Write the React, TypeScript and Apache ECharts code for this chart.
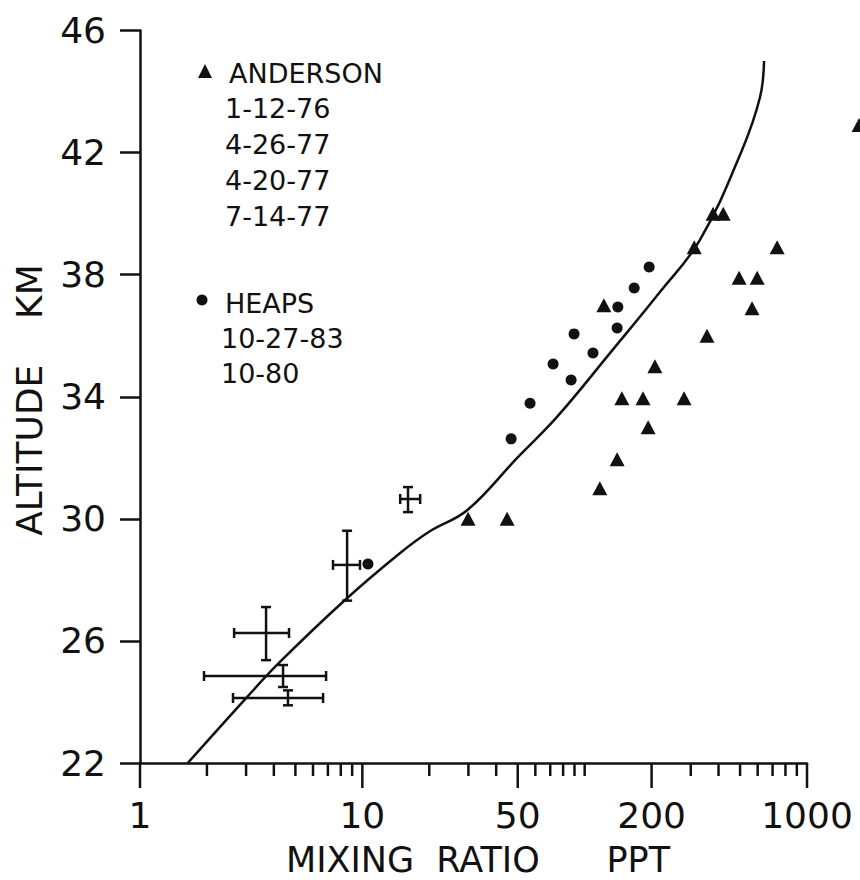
import React, { useEffect, useRef } from "react";
import * as echarts from "echarts";

// ---- axis ticks ----
const yTicks = [22, 26, 30, 34, 38, 42, 46];
const xMajorTicks = [1, 10, 50, 200, 1000];
const xMajorLabels = ["1", "10", "50", "200", "1000"];
const xMinorTicks = [2, 3, 4, 5, 6, 7, 8, 9, 20, 30, 40, 60, 70, 80, 90, 100, 300, 400, 500, 600, 700, 800, 900];

// ---- Anderson (triangles) ----
const andersonX = [1715, 378, 420, 311, 734, 495, 597, 566, 122, 355, 207, 147, 183, 280, 193, 140, 117, 29.9, 44.8];
const andersonY = [42.9, 40.0, 40.0, 38.9, 38.9, 37.9, 37.9, 36.9, 37.0, 36.0, 35.0, 33.95, 33.95, 33.95, 33.0, 31.95, 31.0, 30.0, 30.0];

// ---- Heaps (dots) ----
const heapsX = [195, 167, 141, 140, 89.6, 109, 72.1, 86.9, 56.8, 46.7, 10.6];
const heapsY = [38.25, 37.56, 36.94, 36.25, 36.06, 35.43, 35.07, 34.55, 33.79, 32.62, 28.52];

// ---- error-bar crosses ----
const errX = [16.05, 8.54, 3.69, 4.4, 4.63];
const errY = [30.65, 28.49, 26.26, 24.85, 24.13];
const errXLo = [14.8, 7.38, 2.65, 1.94, 2.62];
const errXHi = [18.2, 9.76, 4.68, 6.87, 6.66];
const errYLo = [30.22, 27.32, 25.37, 24.49, 23.89];
const errYHi = [31.04, 29.61, 27.11, 25.21, 24.38];

// ---- model curve ----
const curveX = [1.64, 3.03, 4.26, 8.36, 14.8, 20.2, 29.6, 49.6, 75.1, 130, 218, 330, 510, 615, 641];
const curveY = [22.0, 24.16, 25.31, 27.34, 28.88, 29.6, 30.28, 31.99, 33.34, 35.43, 37.43, 39.14, 42.08, 43.82, 45.0];

// ---- legend texts ----
const andersonName = "ANDERSON";
const andersonDates = ["1-12-76", "4-26-77", "4-20-77", "7-14-77"];
const heapsName = "HEAPS";
const heapsDates = ["10-27-83", "10-80"];

const FONT = "DejaVu Sans";
const INK = "#111";

export default function App() {
  const ref = useRef<HTMLDivElement>(null);

  useEffect(() => {
    if (!ref.current) return;
    const chart = echarts.init(ref.current, null, { renderer: "svg" });

    const legendText = (text: string, x: number, y: number) => ({
      type: "text",
      x,
      y,
      silent: true,
      style: { text, fill: INK, font: `27px "${FONT}"`, textAlign: "left", textVerticalAlign: "middle" },
    });

    const graphics: any[] = [
      { type: "polygon", silent: true, shape: { points: [[198, 78], [205, 64], [212, 78]] }, style: { fill: INK } },
      legendText(andersonName, 229, 73),
      ...andersonDates.map((d, i) => legendText(d, 225, 108 + i * 36)),
      { type: "circle", silent: true, shape: { cx: 202, cy: 300, r: 5.5 }, style: { fill: INK } },
      legendText(heapsName, 225, 303),
      ...heapsDates.map((d, i) => legendText(d, 221, 338 + i * 35)),
      {
        type: "text",
        x: 29,
        y: 400,
        rotation: Math.PI / 2,
        silent: true,
        style: {
          text: "ALTITUDE\u00A0\u00A0\u00A0\u00A0KM",
          fill: INK,
          font: `36px "${FONT}"`,
          textAlign: "center",
          textVerticalAlign: "middle",
        },
      },
      {
        type: "text",
        x: 478,
        y: 860,
        silent: true,
        style: {
          text: "MIXING\u00A0\u00A0RATIO\u00A0\u00A0\u00A0\u00A0\u00A0\u00A0PPT",
          fill: INK,
          font: `35px "${FONT}"`,
          textAlign: "center",
          textVerticalAlign: "middle",
        },
      },
    ];

    const lineStyle = { stroke: INK, lineWidth: 2.5 };

    chart.setOption({
      animation: false,
      backgroundColor: "#fff",
      grid: { left: 140, right: 53, top: 30.5, bottom: 117, containLabel: false, outerBoundsMode: "none" },
      xAxis: {
        type: "log",
        logBase: 10,
        min: 1,
        max: 1000,
        axisLine: { show: true, onZero: false, lineStyle: { color: INK, width: 2.5 } },
        axisTick: { show: false },
        axisLabel: { show: false },
        splitLine: { show: false },
        minorTick: { show: false },
      },
      yAxis: {
        type: "value",
        min: 22,
        max: 46,
        interval: 4,
        axisLine: { show: true, onZero: false, lineStyle: { color: INK, width: 2.5 } },
        axisTick: { show: true, inside: false, length: 20, customValues: yTicks, lineStyle: { color: INK, width: 2.5 } },
        axisLabel: { customValues: yTicks, margin: 34, fontSize: 36, fontFamily: FONT, color: INK },
        splitLine: { show: false },
      },
      graphic: graphics,
      series: [
        {
          name: "major ticks",
          type: "custom",
          coordinateSystem: "cartesian2d",
          silent: true,
          clip: false,
          data: xMajorTicks.map((v) => [v, 22]),
          encode: { x: 0, y: 1 },
          renderItem: (params: any, api: any) => {
            const p = api.coord([api.value(0), 22]);
            return {
              type: "group",
              children: [
                { type: "line", shape: { x1: p[0], y1: p[1], x2: p[0], y2: p[1] + 25 }, style: lineStyle },
                {
                  type: "text",
                  x: p[0],
                  y: p[1] + 52,
                  style: {
                    text: xMajorLabels[params.dataIndex],
                    fill: INK,
                    font: `36px "${FONT}"`,
                    textAlign: "center",
                    textVerticalAlign: "middle",
                  },
                },
              ],
            };
          },
        },
        {
          name: "minor ticks",
          type: "custom",
          coordinateSystem: "cartesian2d",
          silent: true,
          clip: false,
          data: xMinorTicks.map((v) => [v, 22]),
          encode: { x: 0, y: 1 },
          renderItem: (params: any, api: any) => {
            const p = api.coord([api.value(0), 22]);
            return { type: "line", shape: { x1: p[0], y1: p[1], x2: p[0], y2: p[1] + 13 }, style: lineStyle };
          },
        },
        {
          name: "model",
          type: "line",
          data: curveX.map((x, i) => [x, curveY[i]]),
          showSymbol: false,
          symbol: "none",
          smooth: 0.4,
          clip: false,
          lineStyle: { color: INK, width: 2.5, opacity: 1 },
        },
        {
          name: "Anderson",
          type: "scatter",
          symbol: "triangle",
          symbolSize: [15, 14],
          clip: false,
          itemStyle: { color: INK, opacity: 1 },
          data: andersonX.map((x, i) => [x, andersonY[i]]),
        },
        {
          name: "Heaps",
          type: "scatter",
          symbol: "circle",
          symbolSize: 11,
          clip: false,
          itemStyle: { color: INK, opacity: 1 },
          data: heapsX.map((x, i) => [x, heapsY[i]]),
        },
        {
          name: "error bars",
          type: "custom",
          coordinateSystem: "cartesian2d",
          silent: true,
          clip: false,
          data: errX.map((x, i) => [x, errY[i], errXLo[i], errXHi[i], errYLo[i], errYHi[i]]),
          encode: { x: [0, 2, 3], y: [1, 4, 5] },
          renderItem: (params: any, api: any) => {
            const y = api.value(1);
            const x = api.value(0);
            const c = api.coord([x, y]);
            const l = api.coord([api.value(2), y]);
            const r = api.coord([api.value(3), y]);
            const b = api.coord([x, api.value(4)]);
            const t = api.coord([x, api.value(5)]);
            const cap = 5;
            const st = { stroke: INK, lineWidth: 2.5 };
            return {
              type: "group",
              children: [
                { type: "line", shape: { x1: l[0], y1: c[1], x2: r[0], y2: c[1] }, style: st },
                { type: "line", shape: { x1: c[0], y1: b[1], x2: c[0], y2: t[1] }, style: st },
                { type: "line", shape: { x1: l[0], y1: c[1] - cap, x2: l[0], y2: c[1] + cap }, style: st },
                { type: "line", shape: { x1: r[0], y1: c[1] - cap, x2: r[0], y2: c[1] + cap }, style: st },
                { type: "line", shape: { x1: c[0] - cap, y1: b[1], x2: c[0] + cap, y2: b[1] }, style: st },
                { type: "line", shape: { x1: c[0] - cap, y1: t[1], x2: c[0] + cap, y2: t[1] }, style: st },
              ],
            };
          },
        },
      ],
    });

    return () => chart.dispose();
  }, []);

  return <div ref={ref} style={{ position: "absolute", left: 0, top: 0, width: 860, height: 880 }} />;
}
